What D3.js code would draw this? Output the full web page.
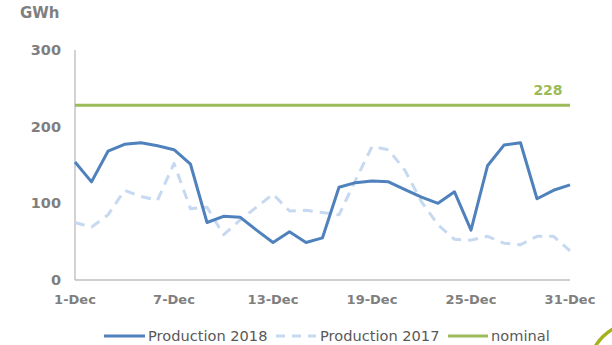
<!DOCTYPE html>
<html>
<head>
<meta charset="utf-8">
<script src="https://cdn.jsdelivr.net/npm/d3@7"></script>
<style>
  html, body { margin: 0; padding: 0; background: #fff; }
  svg { display: block; }
</style>
</head>
<body>
<svg id="chart" width="612" height="345"></svg>
<script>
// Daily production in December (GWh)
const days = d3.range(1, 32);
const production2018 = [154, 128, 168, 177, 179, 175, 170, 151, 75, 83, 82, 65, 49, 63, 49, 55,
  121, 127, 129, 128, 118, 108, 100, 115, 65, 149, 176, 179, 106, 117, 124];
const production2017 = [75, 69, 85, 117, 109, 104, 152, 93, 95, 59, 78, 95, 112, 90, 91, 88,
  85, 130, 174, 170, 143, 102, 72, 53, 52, 57, 48, 46, 57, 57, 38];
const nominal = 228;
const yTicks = [0, 100, 200, 300];
const xTickDays = [1, 7, 13, 19, 25, 31];
const seriesNames = ["Production 2018", "Production 2017", "nominal"];

const svg = d3.select("#chart");
const font = "'DejaVu Sans', Verdana, sans-serif";
const gray = "#7f7f7f";

const x = d3.scaleLinear().domain([1, 31]).range([75, 570]);
const y = d3.scaleLinear().domain([0, 300]).range([280, 50]);

// axis lines
svg.append("line").attr("x1", x(1)).attr("x2", x(1)).attr("y1", y(300)).attr("y2", y(0))
  .attr("stroke", "#a6a6a6").attr("stroke-width", 1);
svg.append("line").attr("x1", x(1)).attr("x2", x(31)).attr("y1", y(0)).attr("y2", y(0))
  .attr("stroke", "#bfbfbf").attr("stroke-width", 1.3);

// y tick labels
svg.append("g").selectAll("text").data(yTicks).join("text")
  .attr("x", 61).attr("y", d => y(d) + 5)
  .attr("text-anchor", "end")
  .attr("font-family", font).attr("font-weight", "bold").attr("font-size", 14.5)
  .attr("fill", gray).text(d => d);

// x tick labels
svg.append("g").selectAll("text").data(xTickDays).join("text")
  .attr("x", d => x(d)).attr("y", 304)
  .attr("text-anchor", "middle")
  .attr("font-family", font).attr("font-weight", "bold").attr("font-size", 13)
  .attr("fill", gray).text(d => d + "-Dec");

// unit label
svg.append("text").attr("x", 20).attr("y", 18)
  .attr("font-family", font).attr("font-weight", "bold").attr("font-size", 15)
  .attr("fill", gray).text("GWh");

const line = d3.line().x((d, i) => x(days[i])).y(d => y(d));

// nominal level
svg.append("line").attr("x1", x(1)).attr("x2", x(31)).attr("y1", y(nominal)).attr("y2", y(nominal))
  .attr("stroke", "#9bbb59").attr("stroke-width", 3);
svg.append("text").attr("x", 548).attr("y", 95).attr("text-anchor", "middle")
  .attr("font-family", font).attr("font-weight", "bold").attr("font-size", 14)
  .attr("fill", "#9bbb59").text(nominal);

// 2017 series (dashed)
svg.append("path").datum(production2017).attr("d", line)
  .attr("fill", "none").attr("stroke", "#c6d9f0").attr("stroke-width", 3)
  .attr("stroke-dasharray", "10,7").attr("stroke-linejoin", "round");

// 2018 series
svg.append("path").datum(production2018).attr("d", line)
  .attr("fill", "none").attr("stroke", "#4f81bd").attr("stroke-width", 3)
  .attr("stroke-linejoin", "round");

// legend
const legend = svg.append("g").attr("font-family", font).attr("font-size", 14.6).attr("fill", "#595959");
const legendItems = [
  { name: seriesNames[0], x0: 104, x1: 145, tx: 148, stroke: "#4f81bd", dash: null },
  { name: seriesNames[1], x0: 276, x1: 316, tx: 320, stroke: "#c6d9f0", dash: "9,7" },
  { name: seriesNames[2], x0: 448, x1: 488, tx: 491, stroke: "#9bbb59", dash: null }
];
legendItems.forEach(it => {
  legend.append("line").attr("x1", it.x0).attr("x2", it.x1).attr("y1", 336).attr("y2", 336)
    .attr("stroke", it.stroke).attr("stroke-width", 3).attr("stroke-dasharray", it.dash);
  legend.append("text").attr("x", it.tx).attr("y", 341).text(it.name);
});

// corner emblem arc
svg.append("circle").attr("cx", 636).attr("cy", 370).attr("r", 47)
  .attr("fill", "none").attr("stroke", "#a4b21e").attr("stroke-width", 3.5);
</script>
</body>
</html>
